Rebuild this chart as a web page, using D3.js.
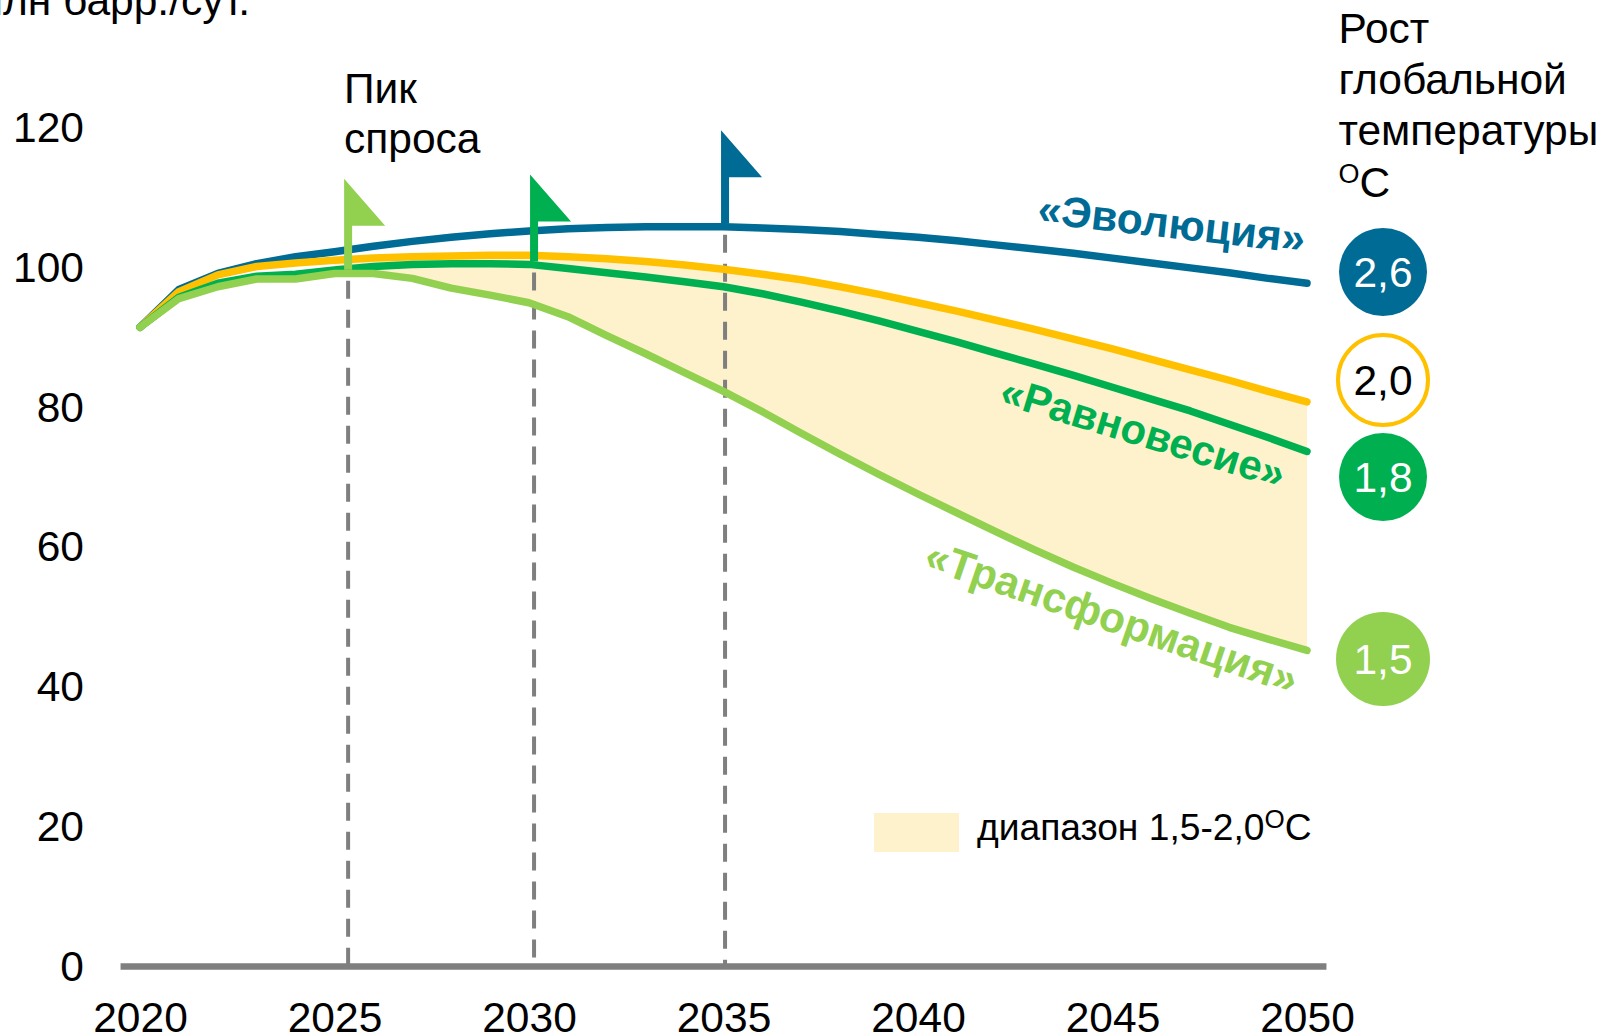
<!DOCTYPE html>
<html lang="ru">
<head>
<meta charset="utf-8">
<script src="https://cdn.jsdelivr.net/npm/d3@7"></script>
<style>
html,body{margin:0;padding:0;background:#fff;overflow:hidden}
svg{display:block}
text{font-family:"Liberation Sans",Arial,sans-serif;fill:#000}
</style>
</head>
<body>
<svg id="chart" width="1603" height="1035"></svg>
<script>
const years = d3.range(2020, 2051);
const evolution = [91.6,97.0,99.3,100.7,101.7,102.4,103.2,103.9,104.5,105.0,105.4,105.7,105.9,106.0,106.0,106.0,105.8,105.6,105.3,104.9,104.5,104.0,103.4,102.8,102.2,101.5,100.8,100.1,99.4,98.6,97.9];
const limit2c = [91.6,96.7,99.1,100.3,100.8,101.2,101.5,101.7,101.8,101.9,101.9,101.7,101.4,101.0,100.5,99.9,99.2,98.4,97.4,96.3,95.1,93.9,92.6,91.3,89.9,88.5,87.0,85.5,84.0,82.4,80.9];
const equilibrium = [91.6,95.9,97.9,98.9,99.2,99.8,100.3,100.6,100.7,100.7,100.6,100.0,99.4,98.8,98.1,97.4,96.4,95.2,93.9,92.5,91.0,89.5,87.9,86.3,84.7,83.0,81.3,79.6,77.7,75.8,73.8];
const transformation = [91.6,95.7,97.4,98.5,98.5,99.3,99.3,98.6,97.2,96.2,95.1,93.1,90.4,87.8,85.1,82.4,79.5,76.4,73.4,70.5,67.7,65.0,62.3,59.7,57.2,54.9,52.7,50.6,48.6,46.9,45.3];

const bandStartYear = 2025;
const yTicks = [0,20,40,60,80,100,120];
const xTicks = [2020,2025,2030,2035,2040,2045,2050];
const peakYears = [2025.35, 2030.13, 2035.04];
const peakValues = [99.4, 100.6, 106.0];
const peakColors = ["#92D050","#00B050","#006B94"];
const flagHeights = [91,87,93.5];
const tempValues = ["2,6","2,0","1,8","1,5"];
const tempColors = ["#006B94","#fff","#00B050","#92D050"];
const titleLines = ["Рост","глобальной","температуры"];

const blue="#006B94", yellow="#FFC000", green="#00B050", lime="#92D050", grey="#7F7F7F", bandCol="#FEF2CC";
const FS = 42.5;

const svg = d3.select("#chart");
const x = d3.scaleLinear().domain([2020,2050]).range([140,1307]);
const y = d3.scaleLinear().domain([0,120]).range([966.5,129]);
const yLabel = y.copy().range([966.5,128]);

// band
const bandData = years.map((yr,i)=>({yr,hi:limit2c[i],lo:transformation[i]})).filter(d=>d.yr>=bandStartYear);
svg.append("path").datum(bandData).attr("fill",bandCol)
  .attr("d",d3.area().x(d=>x(d.yr)).y0(d=>y(d.lo)).y1(d=>y(d.hi)));

// dashed peak lines
svg.selectAll(".peak").data(peakYears).join("line").attr("class","peak")
  .attr("x1",d=>x(d)).attr("x2",d=>x(d))
  .attr("y1",(d,i)=>y(peakValues[i])+8).attr("y2",y(0))
  .attr("stroke",grey).attr("stroke-width",4).attr("stroke-dasharray","18 11");

// axes
const ax = d3.axisBottom(x).tickValues(xTicks).tickFormat(d3.format("d")).tickSize(0).tickPadding(35);
const gx = svg.append("g").attr("transform",`translate(0,${y(0)})`).call(ax);
gx.select(".domain").remove();
gx.selectAll("text").style("font-size",FS+"px").style("font-family",'"Liberation Sans",Arial,sans-serif').attr("fill","#000");
const ay = d3.axisLeft(yLabel).tickValues(yTicks).tickSize(0).tickPadding(0);
const gy = svg.append("g").attr("transform","translate(84,0)").call(ay);
gy.select(".domain").remove();
gy.selectAll("text").style("font-size",FS+"px").style("font-family",'"Liberation Sans",Arial,sans-serif').attr("fill","#000");
svg.append("line").attr("x1",x(2019.5)).attr("x2",x(2050.5)).attr("y1",y(0)).attr("y2",y(0))
  .attr("stroke",grey).attr("stroke-width",6.3);

// lines
const line = d3.line().x((d,i)=>x(years[i])).y(d=>y(d));
[[evolution,blue],[limit2c,yellow],[equilibrium,green],[transformation,lime]].forEach(([s,c])=>{
  svg.append("path").datum(s).attr("fill","none").attr("stroke",c).attr("stroke-width",7.5)
    .attr("stroke-linecap","round").attr("stroke-linejoin","round").attr("d",line);
});

// flags
const flagPath = d3.line();
svg.selectAll(".flag").data(peakYears).join("path").attr("class","flag")
  .attr("fill",(d,i)=>peakColors[i])
  .attr("d",(d,i)=>{
    const px=x(d), base=y(peakValues[i])-3, top=base-flagHeights[i];
    return flagPath([[px-4,base],[px-4,top],[px+37,top+47],[px+4,top+47],[px+4,base]])+"Z";
  });

// peak label
svg.append("text").attr("x",344).attr("y",103).attr("font-size",FS).text("Пик");
svg.append("text").attr("x",344).attr("y",153).attr("font-size",FS).text("спроса");

// unit title (cropped at the top-left in the source)
svg.append("text").attr("x",250).attr("y",15).attr("text-anchor","end").attr("font-size",FS).text("млн барр./сут.");

// right title
titleLines.forEach((t,i)=>{
  svg.append("text").attr("x",1338.5).attr("y",43+i*51).attr("font-size",FS).text(t);
});
const deg = svg.append("text").attr("x",1338.5).attr("y",197).attr("font-size",FS);
deg.append("tspan").attr("font-size",27).attr("dy",-14).text("О");
deg.append("tspan").attr("dy",14).text("С");

// scenario labels
[["«Эволюция»",blue,1170,238,6.5],["«Равновесие»",green,1139,446,16.8],["«Трансформация»",lime,1107,631,19],].forEach(([t,c,cx,cy,a],i)=>{
  svg.append("text").attr("transform",`translate(${cx},${cy}) rotate(${a})`)
    .attr("text-anchor","middle").attr("font-weight","bold").attr("font-size",i===1?42:42.6)
    .style("fill",c).text(t);
});

// temperature circles
const circleY=[272,380,477,659], circleR=[44,45,44,47];
tempValues.forEach((v,i)=>{
  svg.append("circle").attr("cx",1383).attr("cy",circleY[i]).attr("r",circleR[i])
    .attr("fill",tempColors[i]).attr("stroke",i===1?yellow:"none").attr("stroke-width",i===1?4:0);
  svg.append("text").attr("x",1383).attr("y",circleY[i]+15).attr("text-anchor","middle")
    .attr("font-size",FS).style("fill",i===1?"#000":"#fff").text(v);
});

// legend
svg.append("rect").attr("x",874).attr("y",813).attr("width",85).attr("height",39).attr("fill",bandCol);
const lg = svg.append("text").attr("x",977).attr("y",840).attr("font-size",37.2);
lg.append("tspan").text("диапазон 1,5-2,0");
lg.append("tspan").attr("font-size",26).attr("dy",-12).text("О");
lg.append("tspan").attr("dy",12).text("С");
</script>
</body>
</html>
